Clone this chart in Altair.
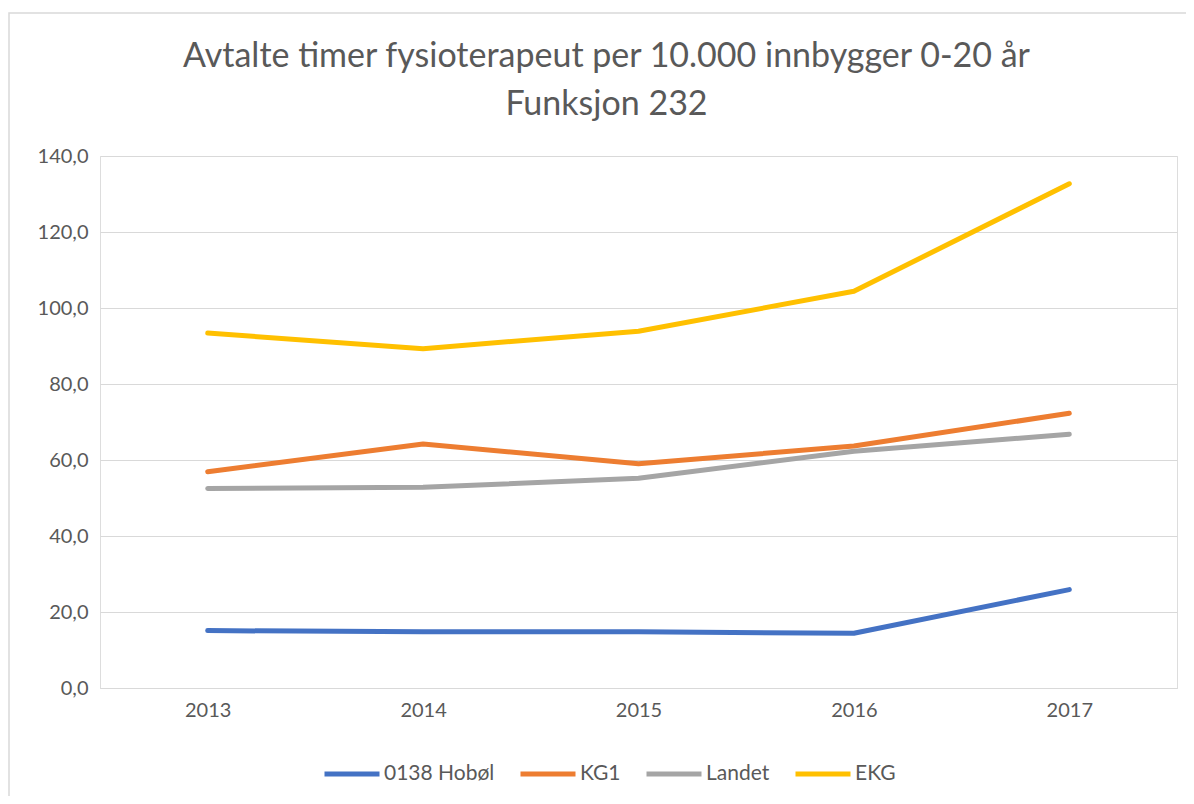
import altair as alt
import pandas as pd

years = ["2013", "2014", "2015", "2016", "2017"]
series_names = ["0138 Hobøl", "KG1", "Landet", "EKG"]
hobol = [15.1, 14.8, 14.8, 14.4, 25.9]
kg1 = [56.9, 64.2, 59.0, 63.7, 72.3]
landet = [52.5, 52.8, 55.2, 62.3, 66.8]
ekg = [93.4, 89.3, 93.9, 104.4, 132.7]
colors = ["#4472C4", "#ED7D31", "#A5A5A5", "#FFC000"]

rows = []
for name, vals in zip(series_names, [hobol, kg1, landet, ekg]):
    for y, v in zip(years, vals):
        rows.append({"År": y, "Serie": name, "Verdi": v})
df = pd.DataFrame(rows)

FONT = "Lato"
GREY = "#595959"

lines = alt.Chart(df).mark_line(strokeWidth=5, strokeCap="round", strokeJoin="round").encode(
    x=alt.X("År:O", scale=alt.Scale(type="point", padding=0.5),
            axis=alt.Axis(title=None, labelAngle=0, ticks=False, domain=True,
                          domainColor="#D9D9D9", labelPadding=12, labelFontSize=20,
                          labelColor=GREY, labelFont=FONT)),
    y=alt.Y("Verdi:Q", scale=alt.Scale(domain=[0, 140], nice=False),
            axis=alt.Axis(title=None, values=[0, 20, 40, 60, 80, 100, 120, 140],
                          labelExpr="replace(format(datum.value, '.1f'), '.', ',')",
                          ticks=False, domain=False, gridColor="#D9D9D9", gridWidth=1.2,
                          labelPadding=12, labelFontSize=20, labelColor=GREY, labelFont=FONT)),
    color=alt.Color("Serie:N", sort=series_names,
                    scale=alt.Scale(domain=series_names, range=colors),
                    legend=alt.Legend(title=None, orient="none", direction="horizontal",
                                      legendX=222, legendY=588,
                                      symbolType="stroke", symbolSize=3025, symbolStrokeWidth=5,
                                      labelFontSize=21, labelColor=GREY, labelFont=FONT,
                                      columnPadding=15, labelOffset=2)),
    order=alt.Order("År:O"),
)

frame_df = pd.DataFrame({"k": [0]})
frame = alt.Chart(frame_df).mark_rect(fill="transparent", stroke="#D9D9D9", strokeWidth=1.5).encode(
    x=alt.value(-91), x2=alt.value(1200), y=alt.value(-143), y2=alt.value(800)
)

chart = alt.layer(frame, lines).properties(
    width=1077, height=532,
    title=alt.TitleParams(
        text=["Avtalte timer fysioterapeut per 10.000 innbygger 0-20 år", "Funksjon 232"],
        font=FONT, fontSize=34, fontWeight="normal", color=GREY, anchor="middle",
        frame="group", lineHeight=48, offset=-110, dx=-32,
    ),
    padding={"left": 92, "top": 148, "right": 9, "bottom": 108},
    autosize=alt.AutoSizeParams(type="none"),
).configure_view(stroke=None).configure(background="white")

chart.save("out.html", embed_options={"renderer": "svg", "actions": False})
